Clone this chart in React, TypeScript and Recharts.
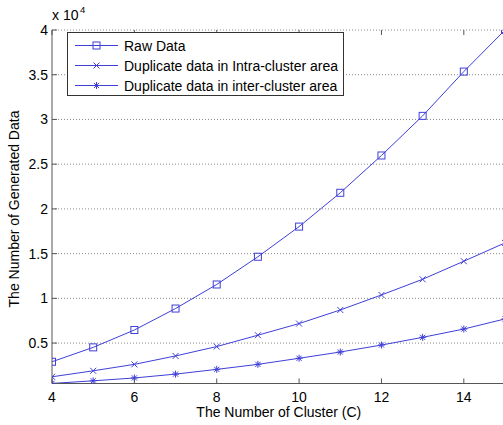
import React from "react";
import { LineChart, Line, XAxis, YAxis, CartesianGrid, Legend } from "recharts";

const clusters = [4, 5, 6, 7, 8, 9, 10, 11, 12, 13, 14, 15];
const rawData = [2910, 4520, 6460, 8860, 11550, 14650, 18020, 21800, 25970, 30400, 35350, 40000];
const intraData = [1230, 1900, 2620, 3560, 4610, 5880, 7180, 8700, 10380, 12130, 14150, 16200];
const interData = [490, 780, 1100, 1530, 2060, 2620, 3300, 4000, 4780, 5640, 6570, 7700];
const xTicks = [4, 6, 8, 10, 12, 14];
const yTicks = [5000, 10000, 15000, 20000, 25000, 30000, 35000, 40000];
const seriesNames = [
  "Raw Data",
  "Duplicate data in Intra-cluster area",
  "Duplicate data in inter-cluster area",
];

const data = clusters.map((c, i) => ({
  c,
  raw: rawData[i],
  intra: intraData[i],
  inter: interData[i],
}));

const BLUE = "#3f3fd8";
const FONT = "'Liberation Sans', Arial, sans-serif";
const FS = 14;
const PLOT_TOP = 30;
const TICK_MARGIN_X = 8.3;

function markerShape(kind: string, cx: number, cy: number, color: string, key?: any) {
  if (kind === "square") {
    return (
      <rect key={key} x={cx - 3.5} y={cy - 3.5} width={7} height={7} fill="none" stroke={color} strokeWidth={1} />
    );
  }
  if (kind === "x") {
    const r = 3;
    return (
      <g key={key} stroke={color} strokeWidth={1}>
        <line x1={cx - r} y1={cy - r} x2={cx + r} y2={cy + r} />
        <line x1={cx - r} y1={cy + r} x2={cx + r} y2={cy - r} />
      </g>
    );
  }
  const r = 3.5;
  const d = 2.6;
  return (
    <g key={key} stroke={color} strokeWidth={1}>
      <line x1={cx - r} y1={cy} x2={cx + r} y2={cy} />
      <line x1={cx} y1={cy - r} x2={cx} y2={cy + r} />
      <line x1={cx - d} y1={cy - d} x2={cx + d} y2={cy + d} />
      <line x1={cx - d} y1={cy + d} x2={cx + d} y2={cy - d} />
    </g>
  );
}

const makeDot = (kind: string) => (props: any) => {
  const { cx, cy, index } = props;
  if (cx == null || cy == null) return <g key={`e${kind}${index}`} />;
  return markerShape(kind, cx, cy, BLUE, `${kind}${index}`);
};

const XTick = (props: any) => {
  const { x, y, payload } = props;
  const axisY = y - TICK_MARGIN_X;
  return (
    <g>
      <line x1={x} y1={axisY} x2={x} y2={axisY - 5} stroke="#555" />
      <line x1={x} y1={PLOT_TOP} x2={x} y2={PLOT_TOP + 5} stroke="#555" />
      <text x={x} y={y} dy="0.71em" textAnchor="middle" fontSize={FS} fontFamily={FONT} fill="#000">
        {payload.value}
      </text>
    </g>
  );
};

const YTick = (props: any) => {
  const { x, y, payload } = props;
  const v = payload.value / 10000;
  return (
    <g>
      <line x1={x + 4} y1={y} x2={x + 9} y2={y} stroke="#555" />
      <text x={x} y={y} dy="0.355em" textAnchor="end" fontSize={FS} fontFamily={FONT} fill="#000">
        {String(v)}
      </text>
    </g>
  );
};

const kinds = ["square", "x", "star"];

const LegendBox = () => {
  return (
    <svg width={278} height={65} style={{ display: "block" }}>
      <rect x={0.5} y={0.5} width={276} height={63} fill="#fff" stroke="#333" strokeWidth={1} />
      {seriesNames.map((name, i) => {
        const cy = 13.5 + i * 20;
        return (
          <g key={i}>
            <line x1={8} y1={cy} x2={51} y2={cy} stroke={BLUE} strokeWidth={1} />
            {markerShape(kinds[i], 29.5, cy, BLUE)}
            <text x={57} y={cy} dy="0.36em" fontSize={FS} fontFamily={FONT} fill="#000">
              {name}
            </text>
          </g>
        );
      })}
    </svg>
  );
};

export default function App() {
  return (
    <div style={{ position: "absolute", left: 0, top: 0, width: 503, height: 425, overflow: "hidden", background: "#fff" }}>
      <LineChart
        width={520}
        height={425}
        data={data}
        margin={{ top: PLOT_TOP, right: 15, bottom: 11.5, left: 0 }}
      >
        <CartesianGrid vertical={false} stroke="#8a8a8a" strokeDasharray="1 2" />
        <XAxis
          dataKey="c"
          type="number"
          domain={[4, 15]}
          ticks={xTicks}
          allowDataOverflow
          height={30}
          tickSize={0}
          tickMargin={TICK_MARGIN_X}
          axisLine={{ stroke: "#555" }}
          tick={<XTick />}
          label={{
            content: () => (
              <text x={278.8} y={417.3} textAnchor="middle" fontSize={FS} fontFamily={FONT} fill="#000">
                The Number of Cluster (C)
              </text>
            ),
          }}
        />
        <XAxis
          xAxisId="top"
          dataKey="c"
          type="number"
          domain={[4, 15]}
          orientation="top"
          height={0}
          tick={false}
          tickLine={false}
          axisLine={{ stroke: "#555" }}
        />
        <YAxis
          type="number"
          domain={[480, 40000]}
          ticks={yTicks}
          allowDataOverflow
          width={52}
          tickSize={0}
          tickMargin={4}
          axisLine={{ stroke: "#555" }}
          tick={<YTick />}
          label={{
            content: () => (
              <g>
                <text
                  x={0}
                  y={0}
                  transform="translate(18.5, 209) rotate(-90)"
                  textAnchor="middle"
                  fontSize={FS}
                  fontFamily={FONT}
                  fill="#000"
                >
                  The Number of Generated Data
                </text>
                <text x={52} y={19.5} fontSize={FS} fontFamily={FONT} fill="#000">
                  x 10
                </text>
                <text x={80} y={12.5} fontSize={9.5} fontFamily={FONT} fill="#000">
                  4
                </text>
              </g>
            ),
          }}
        />
        <Legend
          layout="vertical"
          align="center"
          verticalAlign="middle"
          content={<LegendBox />}
          wrapperStyle={{ position: "absolute", left: 67, top: 32, width: 278, height: 65 }}
        />
        <Line
          dataKey="raw"
          name={seriesNames[0]}
          stroke={BLUE}
          strokeWidth={1}
          dot={makeDot("square")}
          activeDot={false}
          isAnimationActive={false}
        />
        <Line
          dataKey="intra"
          name={seriesNames[1]}
          stroke={BLUE}
          strokeWidth={1}
          dot={makeDot("x")}
          activeDot={false}
          isAnimationActive={false}
        />
        <Line
          dataKey="inter"
          name={seriesNames[2]}
          stroke={BLUE}
          strokeWidth={1}
          dot={makeDot("star")}
          activeDot={false}
          isAnimationActive={false}
        />
      </LineChart>
    </div>
  );
}
